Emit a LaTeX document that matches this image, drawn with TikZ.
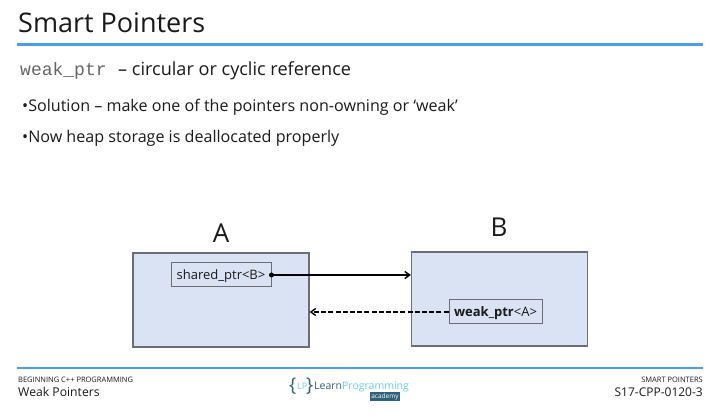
\documentclass[tikz,border=0pt]{standalone}
\usepackage{fontspec}
\setmainfont{Open Sans}
\setmonofont{Liberation Mono}
\usepackage{xcolor}
\usetikzlibrary{arrows.meta}
\definecolor{rule}{HTML}{4A9DE8}
\definecolor{fillbox}{HTML}{D9E3F3}
\definecolor{edgebox}{HTML}{6B6F74}
\definecolor{ink}{HTML}{1A1A1A}
\definecolor{mono}{HTML}{666666}
\definecolor{logolight}{HTML}{6CCBF2}
\definecolor{logodark}{HTML}{2F6079}
\tikzset{
  lab/.style={text=ink, inner sep=0pt, anchor=base west},
  labr/.style={text=ink, inner sep=0pt, anchor=base east},
  outer/.style={draw=edgebox, fill=fillbox, line width=1.1pt, minimum width=176, minimum height=94, inner sep=0pt},
  inner/.style={draw=edgebox, line width=1pt, inner sep=0pt, text=ink, text height=11pt, text depth=1pt, font=\fontsize{13}{15}\selectfont},
  ptr/.style={draw=black, line width=1.4pt, -{Straight Barb[length=5pt,width=7pt]}},
  rulebar/.style={draw=rule, line width=2.6pt},
  rulethin/.style={draw=rule, line width=1.5pt},
}
\begin{document}
\begin{tikzpicture}[x=1pt,y=-1pt]
  \useasboundingbox[fill=white] (0,0) rectangle (718,419);
  % header
  \node[lab,font=\fontsize{27}{30}\selectfont] (title) at (18,33) {Smart Pointers};
  \coordinate (ruleL) at (17,44.5);
  \coordinate (ruleR) at (703,44.5);
  \draw[rulebar] (ruleL) -- (ruleR);
  \node[lab,text=mono,font=\fontsize{18}{20}\ttfamily] (sub) at (20,76) {weak\_ptr};
  \node[lab,font=\fontsize{18.1}{20}\selectfont] (subtxt) at (118,76) {-- circular or cyclic reference};
  \node[lab,font=\fontsize{16.1}{18}\selectfont] (solution) at (22,111.5) {•Solution -- make one of the pointers non-owning or ‘weak’};
  \node[lab,font=\fontsize{16.1}{18}\selectfont] (heap) at (22,142.5) {•Now heap storage is deallocated properly};
  % objects
  \node[outer] (boxA) at (221,300) {};
  \node[outer] (boxB) at (499.5,299) {};
  \node[lab,anchor=base,font=\fontsize{26}{28}\selectfont] (nameA) at (221,242.5) {A};
  \node[lab,anchor=base,font=\fontsize{26}{28}\selectfont] (nameB) at (499,237) {B};
  \node[inner,minimum width=100,minimum height=24] (shared) at (221,275) {shared\_ptr<B>};
  \node[inner,minimum width=93,minimum height=24] (weak) at (495.5,312) {\textbf{weak\_ptr}<A>};
  \draw[ptr] (shared.east) -- (shared.east -| boxB.west);
  \fill[black] (shared.east) circle (2.5);
  \draw[ptr,dashed,dash pattern=on 5pt off 2.2pt] (weak.west) -- (weak.west -| boxA.east);
  % footer
  \coordinate (footL) at (17,368);
  \coordinate (footR) at (703,368);
  \draw[rulethin] (footL) -- (footR);
  \node[lab,font=\fontsize{7.5}{9}\selectfont] (course) at (18,383) {BEGINNING C++ PROGRAMMING};
  \node[lab,font=\fontsize{12.2}{14}\selectfont] (lesson) at (18,397) {Weak Pointers};
  \node[labr,font=\fontsize{7.5}{9}\selectfont] (topic) at (703,383) {SMART POINTERS};
  \node[labr,font=\fontsize{12}{14}\selectfont] (code) at (703,397) {S17-CPP-0120-3};
  % logo
  \node[lab,text=logodark,font=\fontsize{19}{21}\selectfont] (braceL) at (289,392) {\{};
  \node[lab,text=logolight,font=\fontsize{9}{11}\selectfont] (lp) at (297,390) {LP};
  \node[lab,text=logodark,font=\fontsize{19}{21}\selectfont] (braceR) at (306,392) {\}};
  \node[lab,text=logodark,font=\fontsize{10.5}{12}\selectfont] (learn) at (314,390) {Learn\textcolor{logolight}{Programming}};
  \node[fill=logodark,text=white,inner sep=1pt,font=\fontsize{6.5}{7}\selectfont] (academy) at (385,396.5) {academy};
\end{tikzpicture}
\end{document}
